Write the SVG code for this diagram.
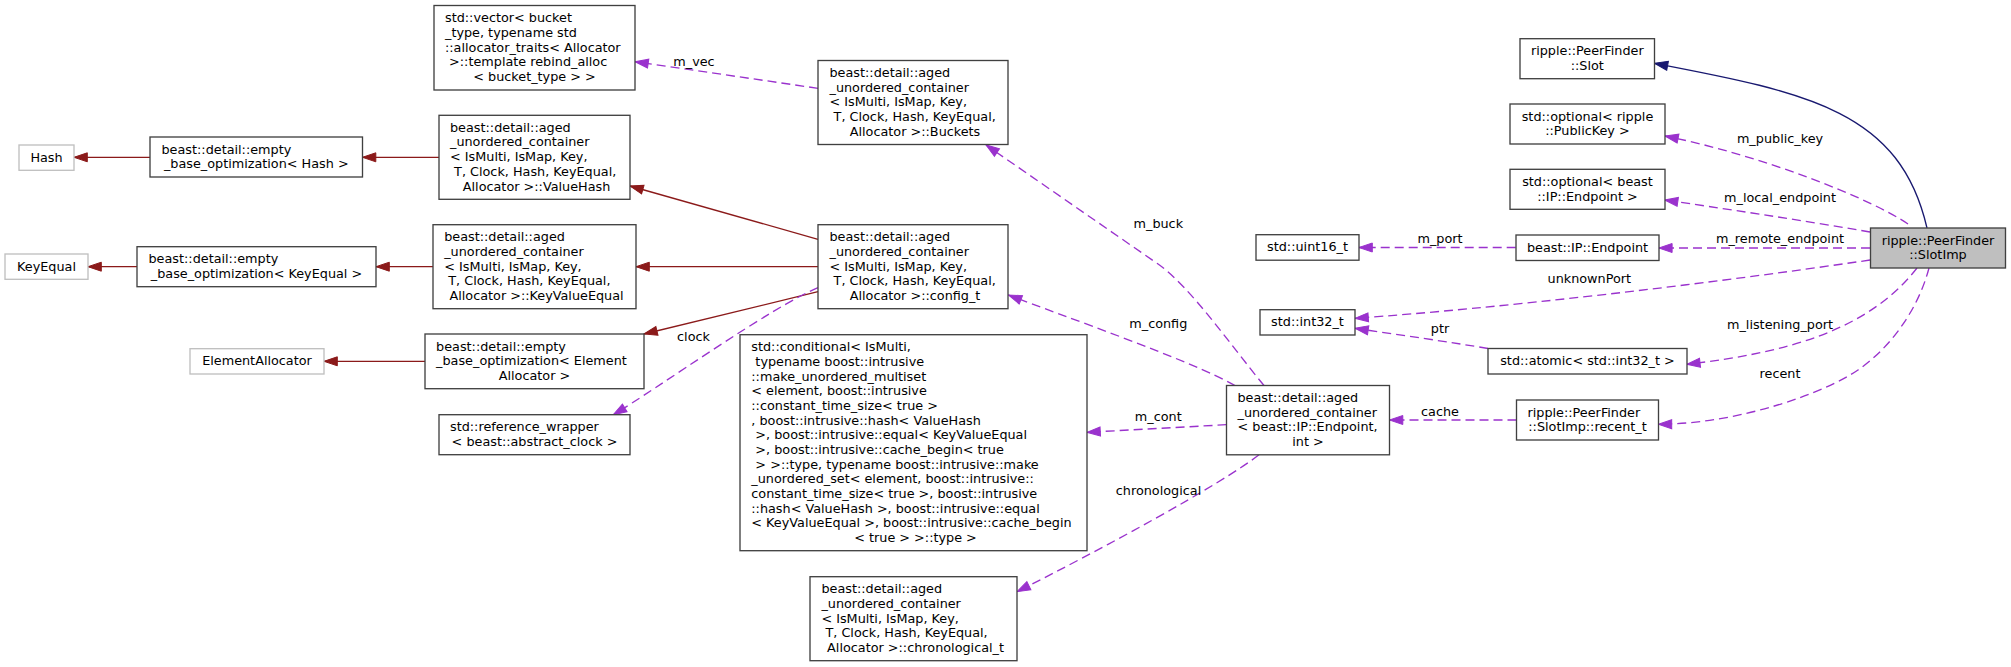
<svg xmlns="http://www.w3.org/2000/svg" width="2011" height="667" viewBox="0 0 2011 667">
<style>
text{font-family:"DejaVu Sans","Liberation Sans",sans-serif;font-size:12.8px;fill:#000;white-space:pre}
.c{text-anchor:middle}
.node rect{fill:#fff;stroke:#404040;stroke-width:1.33}
.node.gray rect{stroke:#bfbfbf}
.node.main rect{fill:#bfbfbf}
.e{fill:none;stroke-width:1.33}
.u{stroke:#9a32cd;stroke-dasharray:9 5;marker-end:url(#au)}
.p{stroke:#8b1a1a;marker-end:url(#ap)}
.i{stroke:#191970;marker-end:url(#ai)}
</style>
<defs>
<marker id="au" markerUnits="userSpaceOnUse" viewBox="0 0 14 10" markerWidth="14" markerHeight="10" refX="13.3" refY="5" orient="auto" overflow="visible"><path d="M0,0.5 L13.3,5 L0,9.5 Z" fill="#9a32cd" stroke="#9a32cd" stroke-width="1"/></marker>
<marker id="ap" markerUnits="userSpaceOnUse" viewBox="0 0 14 10" markerWidth="14" markerHeight="10" refX="13.3" refY="5" orient="auto" overflow="visible"><path d="M0,0.5 L13.3,5 L0,9.5 Z" fill="#8b1a1a" stroke="#8b1a1a" stroke-width="1"/></marker>
<marker id="ai" markerUnits="userSpaceOnUse" viewBox="0 0 14 10" markerWidth="14" markerHeight="10" refX="13.3" refY="5" orient="auto" overflow="visible"><path d="M0,0.5 L13.3,5 L0,9.5 Z" fill="#191970" stroke="#191970" stroke-width="1"/></marker>
</defs>
<rect width="2011" height="667" fill="#fff"/>

<g id="edges">
<path class="e i" d="M1927,228 C1900,112 1811,93 1654.5,63.3"/>
<path class="e u" d="M1908,224 C1870,198 1760,155 1665,136"/>
<path class="e u" d="M1870,232 C1800,220 1720,208 1664.6,200"/>
<path class="e u" d="M1870,248 L1658.8,248"/>
<path class="e u" d="M1870,260 C1700,285 1500,308 1355,318.3"/>
<path class="e u" d="M1917,268 C1868,331 1785,353 1686.8,364.3"/>
<path class="e u" d="M1929,268 C1918,310 1890,348 1858,370 C1826,392 1740,424 1658.4,424.3"/>
<path class="e u" d="M1515.7,247.5 L1359,247.5"/>
<path class="e u" d="M1488,348.5 C1450,342 1400,335 1355,328.3"/>
<path class="e u" d="M1516.5,420 L1389.5,420"/>
<path class="e u" d="M1264,385.5 C1232,347 1190,286 1157,263.3 L986,145"/>
<path class="e u" d="M1235,385.5 C1190,360 1060,315 1008.5,295"/>
<path class="e u" d="M1226.5,424.7 L1087,432.3"/>
<path class="e u" d="M1259,454.8 C1220,485 1100,550 1017,591.7"/>
<path class="e u" d="M818,88.3 L635,61.7"/>
<path class="e p" d="M818,239.3 L630,186"/>
<path class="e p" d="M818,266.7 L636,266.7"/>
<path class="e p" d="M818,291.7 L644,334"/>
<path class="e u" d="M818,287.7 C771.75,306.7 656.8,388.8 613.3,414.7"/>
<path class="e p" d="M439,157.3 L362.5,157.3"/>
<path class="e p" d="M150,157.3 L74,157.3"/>
<path class="e p" d="M433,266.7 L376,266.7"/>
<path class="e p" d="M137,266.7 L88,266.7"/>
<path class="e p" d="M425,361.3 L324,361.3"/>
<text class="c" x="694" y="65.5">m_vec</text>
<text class="c" x="693.5" y="341">clock</text>
<text class="c" x="1158.3" y="228">m_buck</text>
<text class="c" x="1158.3" y="328">m_config</text>
<text class="c" x="1158.3" y="421">m_cont</text>
<text class="c" x="1158.5" y="495">chronological</text>
<text class="c" x="1780" y="142.7">m_public_key</text>
<text class="c" x="1780" y="202.3">m_local_endpoint</text>
<text class="c" x="1780" y="243.3">m_remote_endpoint</text>
<text class="c" x="1589.3" y="283.3">unknownPort</text>
<text class="c" x="1440" y="243.3">m_port</text>
<text class="c" x="1780" y="329">m_listening_port</text>
<text class="c" x="1440" y="332.7">ptr</text>
<text class="c" x="1780" y="378.3">recent</text>
<text class="c" x="1440" y="415.7">cache</text>
</g>

<g id="n_vector" class="node"><rect x="434" y="5.5" width="201" height="84.5"/>
<text xml:space="preserve"><tspan x="445" y="22.2">std::vector&lt; bucket</tspan><tspan x="445" y="36.9">_type, typename std</tspan><tspan x="445" y="51.5">::allocator_traits&lt; Allocator</tspan><tspan x="445" y="66.2"> &gt;::template rebind_alloc</tspan><tspan class="c" x="534.5" y="80.9">&lt; bucket_type &gt; &gt;</tspan></text></g>

<g id="n_buckets" class="node"><rect x="818" y="60.5" width="190" height="84"/>
<text xml:space="preserve"><tspan x="829.5" y="77">beast::detail::aged</tspan><tspan x="829.5" y="91.6">_unordered_container</tspan><tspan x="829.5" y="106.3">&lt; IsMulti, IsMap, Key,</tspan><tspan x="829.5" y="121"> T, Clock, Hash, KeyEqual,</tspan><tspan class="c" x="913" y="135.7"> Allocator &gt;::Buckets</tspan></text></g>

<g id="n_hash" class="node gray"><rect x="19" y="145" width="55" height="25.3"/>
<text class="c" x="46.5" y="161.5">Hash</text></g>

<g id="n_ebo_hash" class="node"><rect x="150" y="137" width="212.5" height="40"/>
<text xml:space="preserve"><tspan x="161.5" y="153.5">beast::detail::empty</tspan><tspan class="c" x="256.25" y="168.1">_base_optimization&lt; Hash &gt;</tspan></text></g>

<g id="n_valuehash" class="node"><rect x="439" y="115.3" width="191" height="84"/>
<text xml:space="preserve"><tspan x="450" y="131.8">beast::detail::aged</tspan><tspan x="450" y="146.4">_unordered_container</tspan><tspan x="450" y="161.1">&lt; IsMulti, IsMap, Key,</tspan><tspan x="450" y="175.8"> T, Clock, Hash, KeyEqual,</tspan><tspan class="c" x="534.5" y="190.5"> Allocator &gt;::ValueHash</tspan></text></g>

<g id="n_keyequal" class="node gray"><rect x="5" y="254" width="83" height="25.3"/>
<text class="c" x="46.5" y="270.5">KeyEqual</text></g>

<g id="n_ebo_keyequal" class="node"><rect x="137" y="246.7" width="239" height="40"/>
<text xml:space="preserve"><tspan x="148.5" y="263.2">beast::detail::empty</tspan><tspan class="c" x="256.5" y="277.8">_base_optimization&lt; KeyEqual &gt;</tspan></text></g>

<g id="n_keyvalueequal" class="node"><rect x="433" y="224.7" width="203" height="84"/>
<text xml:space="preserve"><tspan x="444.2" y="241.2">beast::detail::aged</tspan><tspan x="444.2" y="255.8">_unordered_container</tspan><tspan x="444.2" y="270.5">&lt; IsMulti, IsMap, Key,</tspan><tspan x="444.2" y="285.2"> T, Clock, Hash, KeyEqual,</tspan><tspan class="c" x="534.5" y="299.9"> Allocator &gt;::KeyValueEqual</tspan></text></g>

<g id="n_config" class="node"><rect x="818" y="224.7" width="190" height="84"/>
<text xml:space="preserve"><tspan x="829.5" y="241.2">beast::detail::aged</tspan><tspan x="829.5" y="255.8">_unordered_container</tspan><tspan x="829.5" y="270.5">&lt; IsMulti, IsMap, Key,</tspan><tspan x="829.5" y="285.2"> T, Clock, Hash, KeyEqual,</tspan><tspan class="c" x="913" y="299.9"> Allocator &gt;::config_t</tspan></text></g>

<g id="n_elemalloc" class="node gray"><rect x="190" y="348.7" width="134" height="25.3"/>
<text class="c" x="257" y="365.2">ElementAllocator</text></g>

<g id="n_ebo_elem" class="node"><rect x="425" y="334" width="219" height="54.7"/>
<text xml:space="preserve"><tspan x="436.1" y="350.5">beast::detail::empty</tspan><tspan x="436.1" y="365.2">_base_optimization&lt; Element</tspan><tspan class="c" x="534.5" y="379.8">Allocator &gt;</tspan></text></g>

<g id="n_refwrap" class="node"><rect x="439" y="414.7" width="191" height="40"/>
<text xml:space="preserve"><tspan x="450" y="431.2">std::reference_wrapper</tspan><tspan class="c" x="534.5" y="445.8">&lt; beast::abstract_clock &gt;</tspan></text></g>

<g id="n_conditional" class="node"><rect x="740" y="334.7" width="347" height="216"/>
<text xml:space="preserve"><tspan x="751.3" y="351.2">std::conditional&lt; IsMulti,</tspan><tspan x="751.3" y="365.9"> typename boost::intrusive</tspan><tspan x="751.3" y="380.5">::make_unordered_multiset</tspan><tspan x="751.3" y="395.2">&lt; element, boost::intrusive</tspan><tspan x="751.3" y="409.9">::constant_time_size&lt; true &gt;</tspan><tspan x="751.3" y="424.6">, boost::intrusive::hash&lt; ValueHash</tspan><tspan x="751.3" y="439.2"> &gt;, boost::intrusive::equal&lt; KeyValueEqual</tspan><tspan x="751.3" y="453.9"> &gt;, boost::intrusive::cache_begin&lt; true</tspan><tspan x="751.3" y="468.6"> &gt; &gt;::type, typename boost::intrusive::make</tspan><tspan x="751.3" y="483.2">_unordered_set&lt; element, boost::intrusive::</tspan><tspan x="751.3" y="497.9">constant_time_size&lt; true &gt;, boost::intrusive</tspan><tspan x="751.3" y="512.6">::hash&lt; ValueHash &gt;, boost::intrusive::equal</tspan><tspan x="751.3" y="527.2">&lt; KeyValueEqual &gt;, boost::intrusive::cache_begin</tspan><tspan class="c" x="913.5" y="541.9"> &lt; true &gt; &gt;::type &gt;</tspan></text></g>

<g id="n_chrono" class="node"><rect x="810" y="576.7" width="207" height="84"/>
<text xml:space="preserve"><tspan x="821.4" y="593.2">beast::detail::aged</tspan><tspan x="821.4" y="607.8">_unordered_container</tspan><tspan x="821.4" y="622.5">&lt; IsMulti, IsMap, Key,</tspan><tspan x="821.4" y="637.2"> T, Clock, Hash, KeyEqual,</tspan><tspan class="c" x="913.5" y="651.9"> Allocator &gt;::chronological_t</tspan></text></g>

<g id="n_container" class="node"><rect x="1226.5" y="385.5" width="163" height="69.3"/>
<text xml:space="preserve"><tspan x="1237.5" y="402">beast::detail::aged</tspan><tspan x="1237.5" y="416.6">_unordered_container</tspan><tspan x="1237.5" y="431.3">&lt; beast::IP::Endpoint,</tspan><tspan class="c" x="1308" y="446">int &gt;</tspan></text></g>

<g id="n_uint16" class="node"><rect x="1256" y="234.7" width="103" height="25.5"/>
<text class="c" x="1307.5" y="251.3">std::uint16_t</text></g>

<g id="n_int32" class="node"><rect x="1260" y="309.7" width="95" height="25.3"/>
<text class="c" x="1307.5" y="326.2">std::int32_t</text></g>

<g id="n_ipendpoint" class="node"><rect x="1516" y="235" width="143" height="25.5"/>
<text class="c" x="1587.5" y="251.5">beast::IP::Endpoint</text></g>

<g id="n_atomic" class="node"><rect x="1488" y="348.5" width="199" height="25.5"/>
<text class="c" x="1587.5" y="365">std::atomic&lt; std::int32_t &gt;</text></g>

<g id="n_recent" class="node"><rect x="1516.5" y="400" width="142" height="40"/>
<text xml:space="preserve"><tspan x="1527.5" y="416.5">ripple::PeerFinder</tspan><tspan class="c" x="1587.5" y="431.2">::SlotImp::recent_t</tspan></text></g>

<g id="n_slot" class="node"><rect x="1520" y="38.7" width="134.5" height="40"/>
<text class="c"><tspan x="1587.3" y="55.2">ripple::PeerFinder</tspan><tspan x="1587.3" y="69.8">::Slot</tspan></text></g>

<g id="n_optpk" class="node"><rect x="1510" y="104" width="155" height="40"/>
<text class="c"><tspan x="1587.5" y="120.5">std::optional&lt; ripple</tspan><tspan x="1587.5" y="135.2">::PublicKey &gt;</tspan></text></g>

<g id="n_optep" class="node"><rect x="1510" y="169.3" width="155" height="40"/>
<text class="c"><tspan x="1587.5" y="185.8">std::optional&lt; beast</tspan><tspan x="1587.5" y="200.5">::IP::Endpoint &gt;</tspan></text></g>

<g id="n_slotimp" class="node main"><rect x="1870.5" y="228" width="135" height="40"/>
<text class="c"><tspan x="1938" y="244.5">ripple::PeerFinder</tspan><tspan x="1938" y="259.2">::SlotImp</tspan></text></g>
</svg>
